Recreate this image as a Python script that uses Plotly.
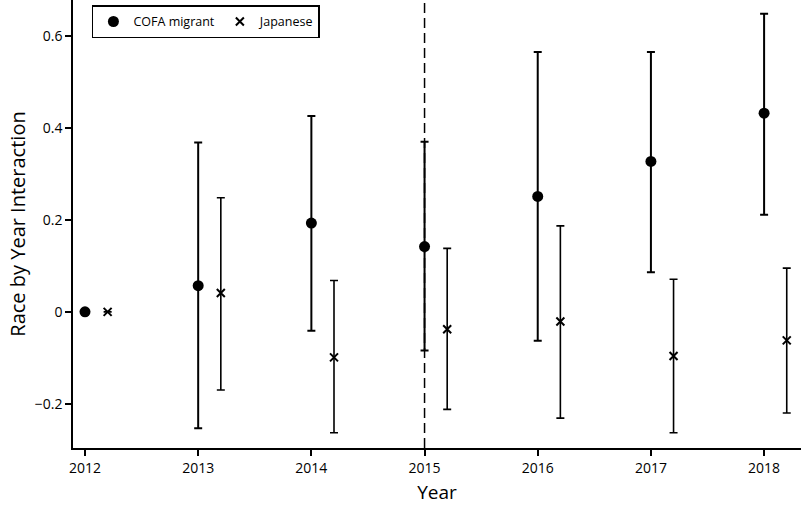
import plotly.graph_objects as go

years = [2012, 2013, 2014, 2015, 2016, 2017, 2018]
offset = 0.2  # japanese points sit a bit to the right

cofa = [0.0, 0.057, 0.193, 0.142, 0.251, 0.327, 0.432]
cofa_hi = [0.0, 0.368, 0.426, 0.370, 0.565, 0.565, 0.648]
cofa_lo = [0.0, -0.253, -0.041, -0.084, -0.063, 0.086, 0.211]

jap = [0.0, 0.041, -0.099, -0.038, -0.021, -0.096, -0.062]
jap_hi = [0.0, 0.248, 0.068, 0.138, 0.187, 0.071, 0.095]
jap_lo = [0.0, -0.170, -0.263, -0.212, -0.231, -0.263, -0.220]

ytick_vals = [-0.2, 0, 0.2, 0.4, 0.6]
ytick_text = ["\u22120.2", "0", "0.2", "0.4", "0.6"]

font = "Open Sans"

fig = go.Figure()
fig.add_trace(
    go.Scatter(
        x=years,
        y=cofa,
        mode="markers",
        name="COFA migrant",
        cliponaxis=False,
        marker=dict(symbol="circle", size=11, color="black"),
        error_y=dict(
            type="data",
            symmetric=False,
            array=[h - v for h, v in zip(cofa_hi, cofa)],
            arrayminus=[v - l for l, v in zip(cofa_lo, cofa)],
            color="black",
            thickness=2,
            width=4,
        ),
    )
)
fig.add_trace(
    go.Scatter(
        x=[y + offset for y in years],
        y=jap,
        mode="markers",
        name="Japanese",
        cliponaxis=False,
        marker=dict(symbol="x-thin", size=8, color="black",
                    line=dict(width=2, color="black")),
        error_y=dict(
            type="data",
            symmetric=False,
            array=[h - v for h, v in zip(jap_hi, jap)],
            arrayminus=[v - l for l, v in zip(jap_lo, jap)],
            color="black",
            thickness=1.6,
            width=4,
        ),
    )
)

# policy change line
fig.add_shape(type="line", x0=2015, x1=2015, y0=0, y1=1, xref="x", yref="paper",
              line=dict(color="black", width=1.5, dash="10px,5px"))

fig.update_layout(
    width=801,
    height=512,
    margin=dict(l=73, r=0, t=0, b=64, autoexpand=False),
    plot_bgcolor="white",
    paper_bgcolor="white",
    font=dict(family=font, size=14, color="black"),
    showlegend=True,
    legend=dict(
        orientation="h",
        x=0.026,
        y=0.988,
        xanchor="left",
        yanchor="top",
        bordercolor="black",
        borderwidth=1.5,
        bgcolor="white",
        font=dict(size=12.5),
        itemwidth=30,
        tracegroupgap=0,
    ),
    xaxis=dict(
        title=dict(text="Year", font=dict(size=19), standoff=10),
        range=[2011.894, 2018.326],
        tickvals=years,
        ticktext=[str(y) for y in years],
        showline=True,
        linecolor="black",
        linewidth=1.5,
        ticks="outside",
        ticklen=6,
        tickwidth=1.5,
        tickcolor="black",
        showgrid=False,
        zeroline=False,
    ),
    yaxis=dict(
        title=dict(text="Race by Year Interaction", font=dict(size=20), standoff=4),
        range=[-0.296, 0.678],
        tickvals=ytick_vals,
        ticktext=ytick_text,
        showline=True,
        linecolor="black",
        linewidth=1.5,
        ticks="outside",
        ticklen=6,
        tickwidth=1.5,
        tickcolor="black",
        showgrid=False,
        zeroline=False,
    ),
)

fig.write_html("out.html", config={"displayModeBar": False},
               post_script="document.body.style.margin='0';")
